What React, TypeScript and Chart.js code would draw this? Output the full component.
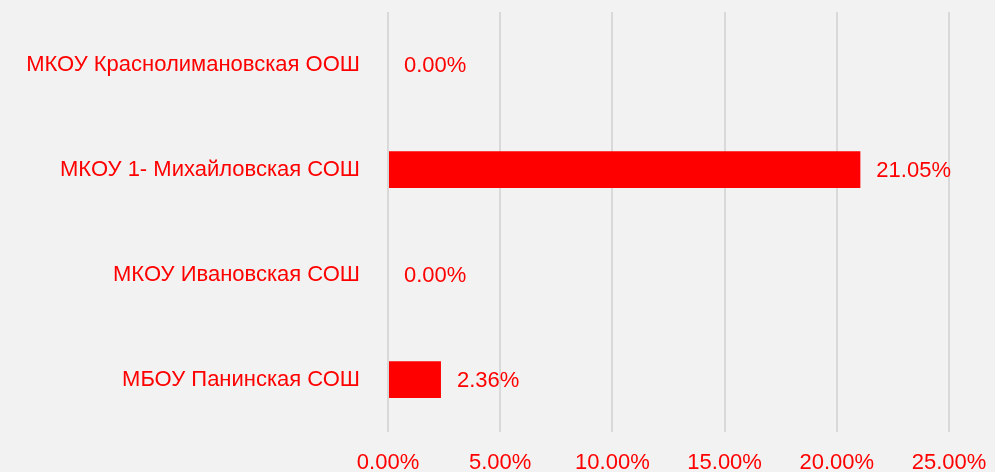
import React, { useEffect, useRef } from "react";
import { Chart, registerables } from "chart.js";

Chart.register(...registerables);

const categories = [
  "МКОУ Краснолимановская ООШ",
  "МКОУ 1- Михайловская СОШ",
  "МКОУ Ивановская СОШ",
  "МБОУ Панинская СОШ",
];
const values = [0.0, 21.05, 0.0, 2.36];
const xTicks = [0, 5, 10, 15, 20, 25];

const RED = "#ff0000";
const FONT = "'Liberation Sans', Arial, sans-serif";
const FS = 22;

const valueLabels = {
  id: "valueLabels",
  afterDatasetsDraw(chart: any) {
    const ctx = chart.ctx;
    const meta = chart.getDatasetMeta(0);
    ctx.save();
    ctx.fillStyle = RED;
    ctx.font = `${FS}px ${FONT}`;
    ctx.textAlign = "left";
    ctx.textBaseline = "middle";
    meta.data.forEach((bar: any, i: number) => {
      const v = values[i];
      ctx.fillText(v.toFixed(2) + "%", bar.x + 16, bar.y + 1);
    });
    ctx.restore();
  },
};

const bgPlugin = {
  id: "bg",
  beforeDraw(chart: any) {
    const ctx = chart.ctx;
    ctx.save();
    ctx.fillStyle = "#f2f2f2";
    ctx.fillRect(0, 0, chart.width, chart.height);
    ctx.restore();
  },
};

function zeroPad(scale: any) {
  scale.paddingTop = 0;
  scale.paddingBottom = 0;
  scale.paddingLeft = 0;
  scale.paddingRight = 0;
}

export default function App() {
  const ref = useRef<HTMLCanvasElement>(null);
  useEffect(() => {
    document.body.style.margin = "0";
    const chart = new Chart(ref.current!, {
      type: "bar",
      data: {
        labels: categories,
        datasets: [
          {
            data: values,
            backgroundColor: RED,
            borderWidth: 0,
            barPercentage: 0.35,
            categoryPercentage: 1,
          },
        ],
      },
      options: {
        indexAxis: "y",
        animation: false,
        responsive: false,
        layout: { padding: { top: 12, right: 46, left: 0, bottom: 0 } },
        plugins: { legend: { display: false }, tooltip: { enabled: false } },
        scales: {
          x: {
            min: 0,
            max: 25,
            afterBuildTicks(scale: any) {
              scale.ticks = xTicks.map((v) => ({ value: v }));
            },
            afterFit(scale: any) {
              scale.height = 40;
              zeroPad(scale);
            },
            border: { display: false },
            grid: { color: "#d9d9d9", lineWidth: 2, drawTicks: false },
            ticks: {
              color: RED,
              font: { family: FONT, size: FS },
              padding: 18,
              maxRotation: 0,
              callback: (v: any) => Number(v).toFixed(2) + "%",
            },
          },
          y: {
            afterFit(scale: any) {
              scale.width = 388;
              zeroPad(scale);
            },
            border: { display: false },
            grid: { display: false, drawTicks: false },
            ticks: {
              color: RED,
              font: { family: FONT, size: FS },
              padding: 28,
            },
          },
        },
      },
      plugins: [bgPlugin, valueLabels],
    });
    return () => chart.destroy();
  }, []);
  return <canvas ref={ref} width={995} height={472} style={{ display: "block" }} />;
}
